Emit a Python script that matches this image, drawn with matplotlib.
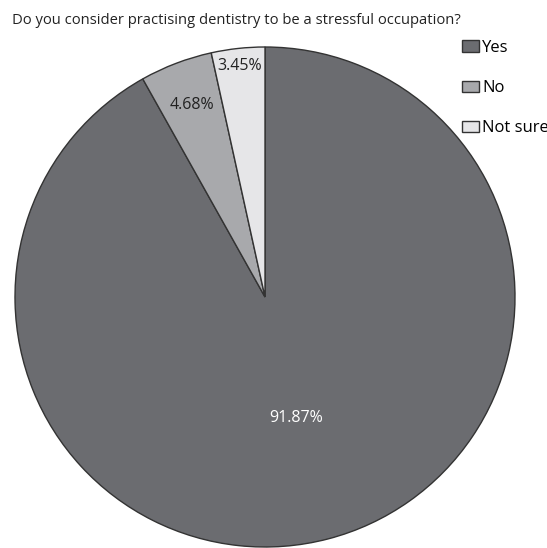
import numpy as np
import matplotlib.pyplot as plt
from matplotlib.patches import Patch

plt.rcParams['font.family'] = ['Open Sans', 'DejaVu Sans']

# data
categories = ['Yes', 'No', 'Not sure']
values = [91.87, 4.68, 3.45]
pct_labels = ['91.87%', '4.68%', '3.45%']
colors = ['#6b6c70', '#a8a9ac', '#e6e6e8']
label_colors = ['white', '#222222', '#222222']
label_dist = [0.5, 0.82, 0.93]

W, H = 547, 548
fig = plt.figure(figsize=(W / 100, H / 100), dpi=100)
# pie centre ~ (265, 297) px, radius ~ 250 px
ax = fig.add_axes([15 / W, 1 / H, 500 / W, 500 / H])
wedges, _ = ax.pie(values, colors=colors, startangle=90, counterclock=False,
                   radius=1, wedgeprops=dict(edgecolor='#333333', linewidth=1.0))
ax.set_xlim(-1, 1)
ax.set_ylim(-1, 1)
ax.set_aspect('auto')
ax.axis('off')

for w, lab, c, d in zip(wedges, pct_labels, label_colors, label_dist):
    ang = np.deg2rad((w.theta1 + w.theta2) / 2)
    ax.text(d * np.cos(ang), d * np.sin(ang), lab, ha='center', va='center',
            color=c, fontsize=11.5)

fig.text(12 / W, 1 - 21 / H, 'Do you consider practising dentistry to be a stressful occupation?',
         ha='left', va='center', fontsize=10.6, color='#222222')

handles = [Patch(facecolor=c, edgecolor='#333333', linewidth=1.0) for c in colors]
fig.legend(handles, categories, loc='upper left', bbox_to_anchor=(462 / W, 1 - 40 / H),
           frameon=False, fontsize=12, handlelength=1.0, handleheight=0.7,
           handletextpad=0.2, labelspacing=1.45, borderpad=0, borderaxespad=0)

fig.savefig('out.png', dpi=100)
